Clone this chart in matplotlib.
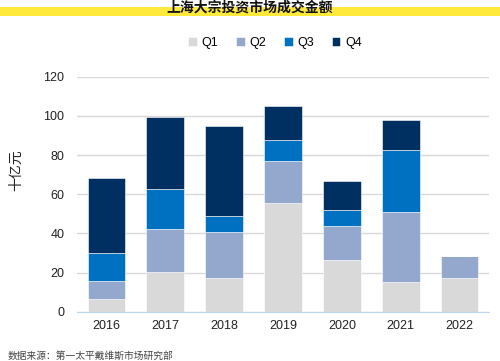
import matplotlib
matplotlib.use("Agg")
import matplotlib.pyplot as plt
from matplotlib.patches import Rectangle
import numpy as np

plt.rcParams['font.family'] = ['Liberation Sans', 'Noto Sans CJK SC', 'DejaVu Sans']

years = ["2016", "2017", "2018", "2019", "2020", "2021", "2022"]
q1 = [6.3, 20.1, 17.1, 55.4, 26.6, 15.0, 17.1]
q2 = [9.4, 22.1, 23.8, 21.6, 17.2, 35.9, 11.5]
q3 = [14.4, 20.5, 8.0, 10.7, 8.0, 31.8, 0]
q4 = [38.0, 36.6, 45.9, 17.4, 15.1, 15.1, 0]
series_names = ["Q1", "Q2", "Q3", "Q4"]
colors = ["#D9D9D9", "#94A8CE", "#0070C0", "#002F62"]

fig = plt.figure(figsize=(5, 3.61), dpi=100)
ax = fig.add_axes([0.154, 0.1366, 0.824, 0.651])

# yellow band behind title
fig.patches.append(Rectangle((0, 1 - 15.5 / 361), 1, 8 / 361, transform=fig.transFigure,
                             facecolor="#FFE93B", edgecolor="none", zorder=0))
fig.text(0.5, 1 - 7.5 / 361, "上海大宗投资市场成交金额", ha="center", va="center",
         fontsize=10, fontweight="bold", family=['Noto Sans CJK SC'], color="#111111")

x = np.arange(len(years))
bottom = np.zeros(len(years))
for vals, name, c in zip([q1, q2, q3, q4], series_names, colors):
    ax.bar(x, vals, width=0.64, bottom=bottom, color=c, label=name,
           edgecolor="white", linewidth=0.4, zorder=3)
    bottom += np.array(vals)

ax.set_ylim(0, 120)
ax.set_xlim(-0.5, len(years) - 0.5)
ax.set_yticks(range(0, 121, 20))
ax.set_xticks(x)
ax.set_xticklabels(years)
ax.tick_params(axis="both", length=0, labelsize=9, colors="#222222")
ax.tick_params(axis="y", pad=9)
ax.tick_params(axis="x", pad=6)
ax.grid(axis="y", color="#D9D9D9", linewidth=1, zorder=0)
for s in ["top", "right", "left"]:
    ax.spines[s].set_visible(False)
ax.spines["bottom"].set_color("#BDD7EE")
ax.spines["bottom"].set_zorder(4)

fig.text(16 / 500, 1 - 170 / 361, "十亿元", rotation=90, ha="center", va="center",
         fontsize=10, family=['Noto Sans CJK SC'], color="#222222")

fig.legend(loc="center", bbox_to_anchor=(0.55, 1 - 43 / 361), ncol=4, frameon=False,
           fontsize=9, handlelength=0.7, handleheight=0.7, columnspacing=1.4,
           handletextpad=0.4)

fig.text(0.016, 1 - 356 / 361, "数据来源：第一太平戴维斯市场研究部", ha="left", va="center",
         fontsize=7, family=['Noto Sans CJK SC'], color="#444444", style="italic")

fig.savefig("out.png", dpi=100)
